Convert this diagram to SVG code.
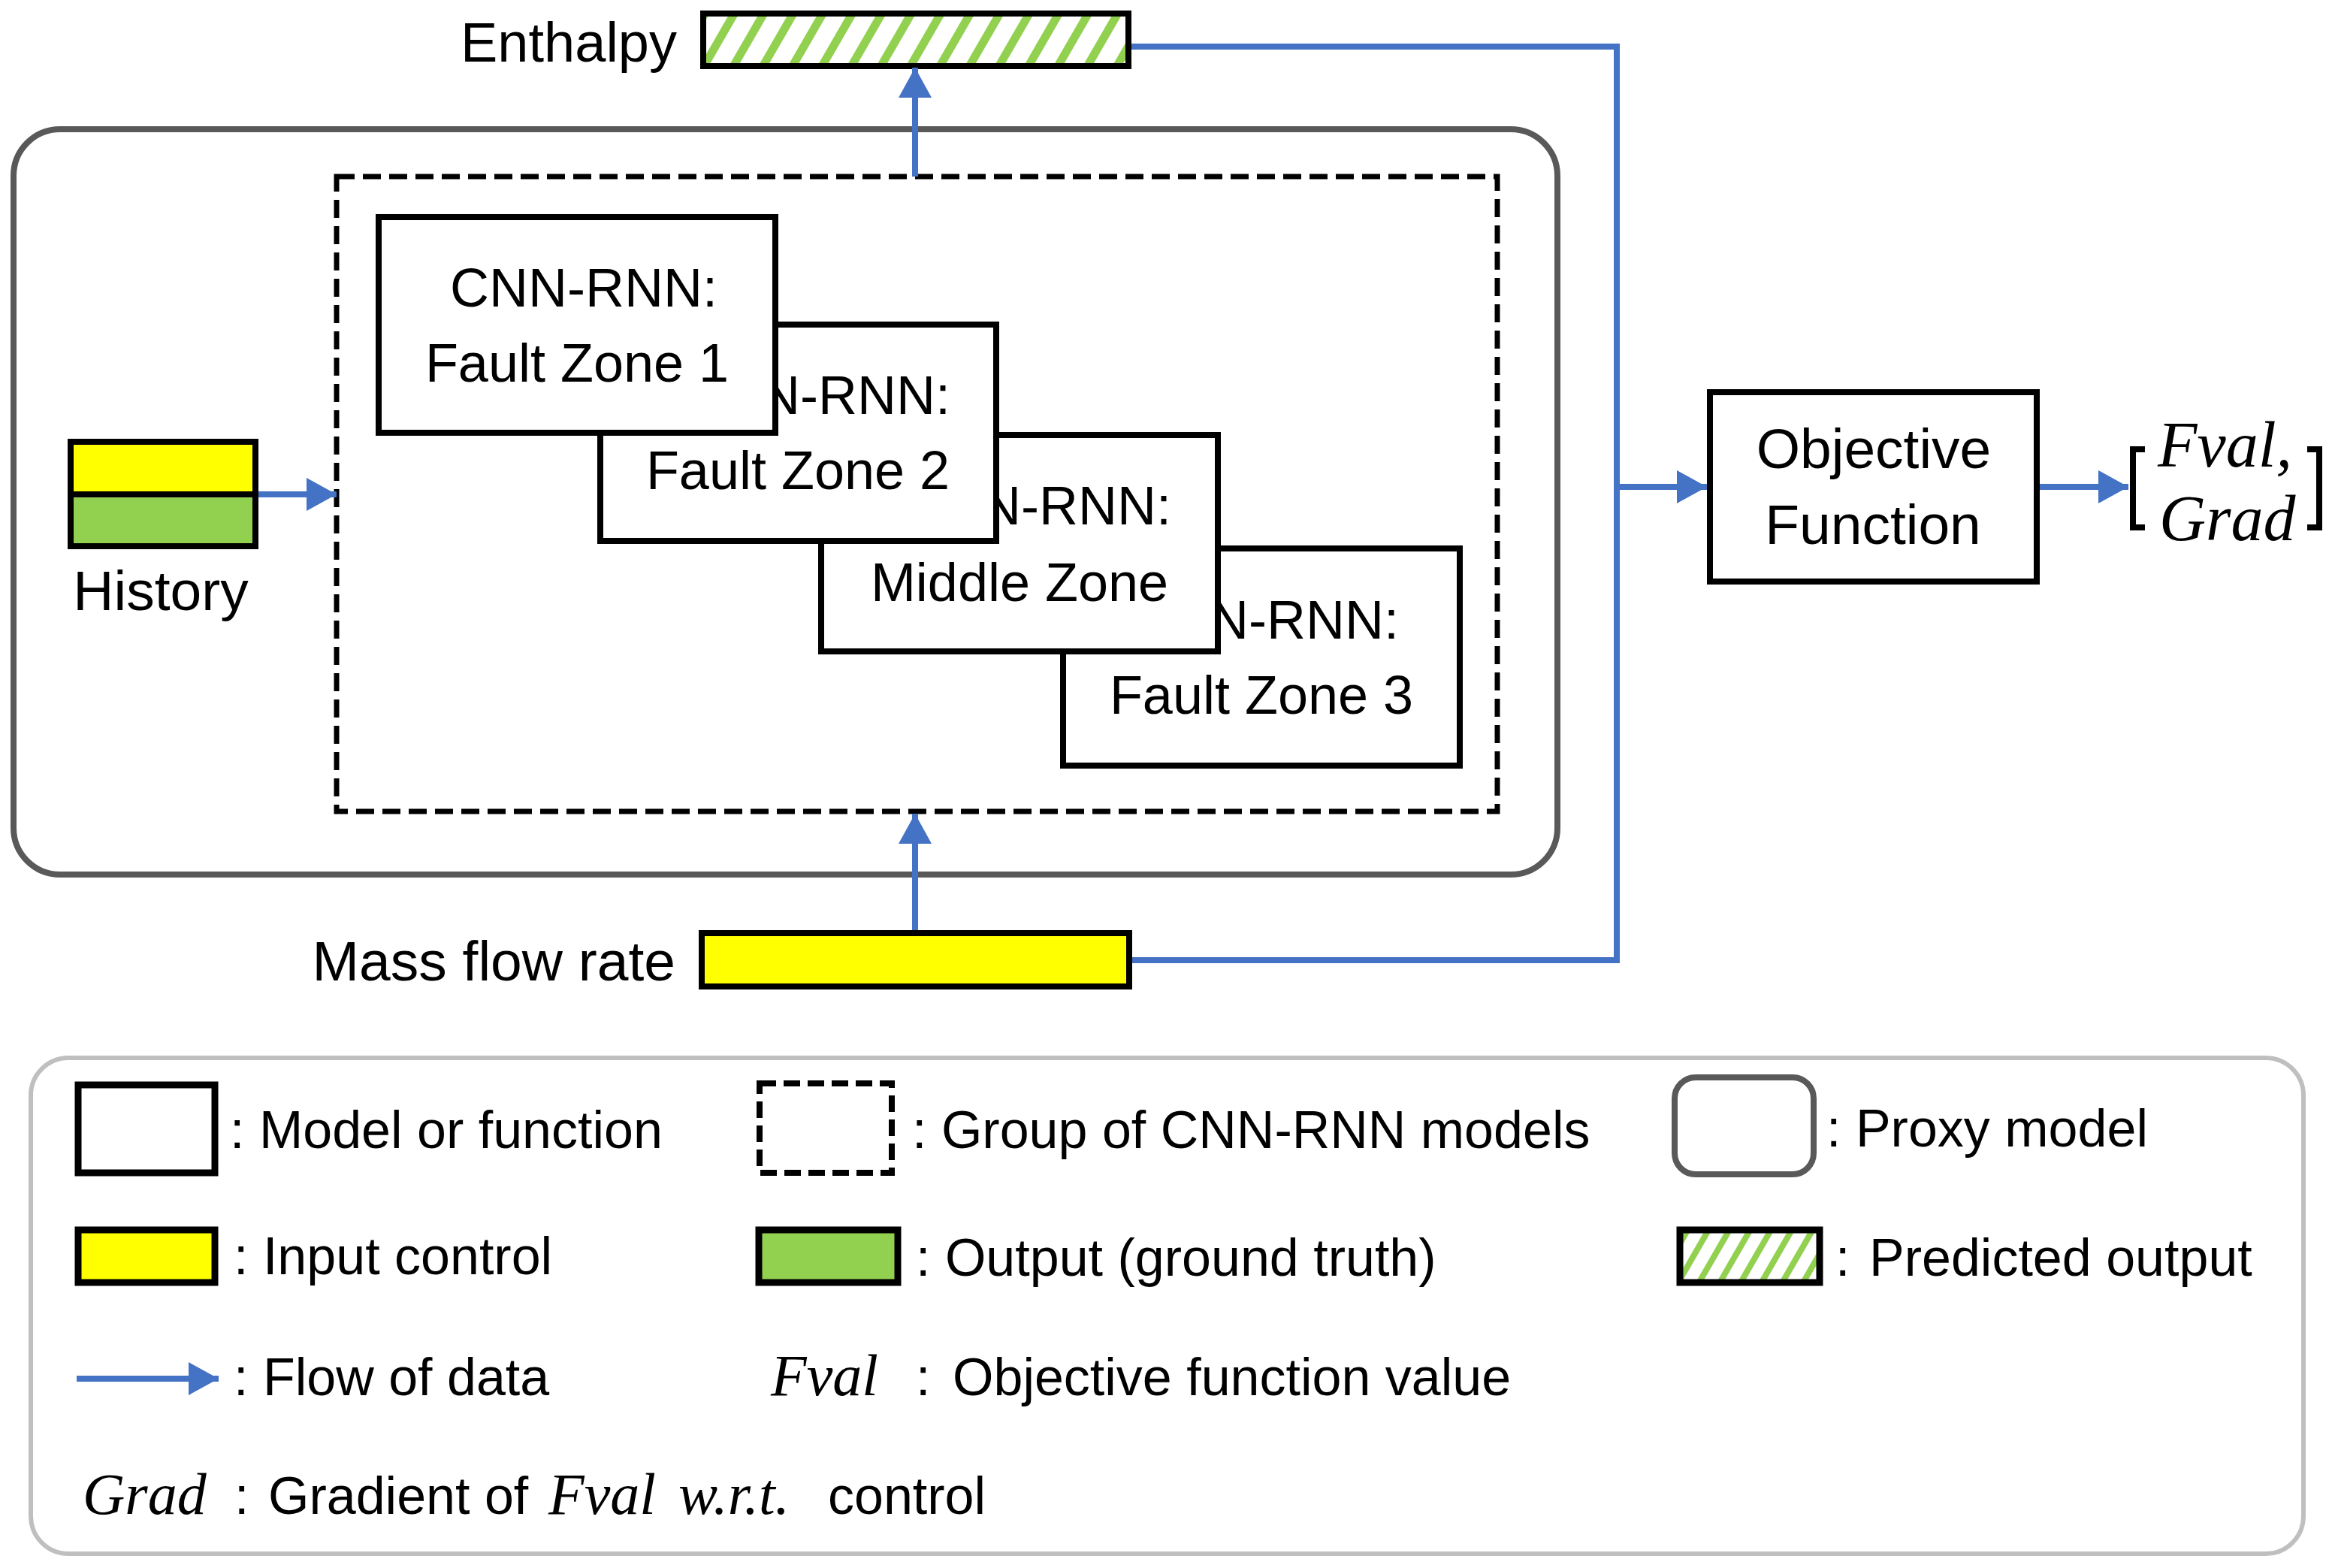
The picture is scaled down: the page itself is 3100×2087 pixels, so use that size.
<svg xmlns="http://www.w3.org/2000/svg" width="3100" height="2087" viewBox="0 0 3100 2087">
<style>
.t{font-family:"Liberation Sans",Arial,sans-serif;fill:#000}
.m{font-family:"Liberation Serif","Times New Roman",serif;font-style:italic;fill:#000}
.lbl{font-size:75px}
.box{font-size:72px;text-anchor:middle}
.leg{font-size:70px}
.mb{fill:#fff;stroke:#000;stroke-width:8}
.flow{fill:none;stroke:#4472C4;stroke-width:8}
</style>
<defs>
<marker id="ah" markerUnits="userSpaceOnUse" markerWidth="40" markerHeight="44" refX="40" refY="22" orient="auto">
<path d="M0,0 L40,22 L0,44 Z" fill="#4472C4"/>
</marker>
<pattern id="hatch" width="34" height="34" patternUnits="userSpaceOnUse" patternTransform="rotate(30)">
<rect width="34" height="34" fill="#fff"/><rect width="11" height="34" fill="#92D050"/>
</pattern>
<pattern id="hatchS" width="24" height="24" patternUnits="userSpaceOnUse" patternTransform="rotate(30)">
<rect width="24" height="24" fill="#fff"/><rect width="8" height="24" fill="#92D050"/>
</pattern>
</defs>
<rect width="3100" height="2087" fill="#fff"/>

<g id="proxy-model">
<rect x="18" y="172" width="2055" height="992" rx="62" fill="#fff" stroke="#595959" stroke-width="8"/>
</g>
<g id="cnn-group">
<rect x="448" y="235" width="1545" height="845" fill="none" stroke="#000" stroke-width="7" stroke-dasharray="24 11"/>
</g>

<g id="box-fz3">
<rect class="mb" x="1415" y="730" width="528" height="289"/>
<text class="t box" x="1684" y="850">CNN-RNN:</text>
<text class="t box" x="1679" y="950">Fault Zone 3</text>
</g>
<g id="box-mz">
<rect class="mb" x="1093" y="579" width="528" height="288"/>
<text class="t box" x="1381" y="698">CNN-RNN:</text>
<text class="t box" x="1357" y="800">Middle Zone</text>
</g>
<g id="box-fz2">
<rect class="mb" x="799" y="432" width="527" height="288"/>
<text class="t box" x="1087" y="551">CNN-RNN:</text>
<text class="t box" x="1062" y="651">Fault Zone 2</text>
</g>
<g id="box-fz1">
<rect class="mb" x="504" y="289" width="528" height="287"/>
<text class="t box" x="777" y="408">CNN-RNN:</text>
<text class="t box" x="768" y="508">Fault Zone 1</text>
</g>

<g id="history">
<rect x="94" y="588" width="246" height="70" fill="#FFFF00" stroke="#000" stroke-width="8"/>
<rect x="94" y="658" width="246" height="69" fill="#92D050" stroke="#000" stroke-width="8"/>
<text class="t lbl" x="214" y="812" text-anchor="middle">History</text>
</g>

<g id="enthalpy">
<rect x="936" y="18" width="566" height="70" fill="url(#hatch)" stroke="#000" stroke-width="8"/>
<text class="t lbl" x="901" y="82" text-anchor="end" style="font-size:74px">Enthalpy</text>
</g>

<g id="mass-flow">
<rect x="934" y="1242" width="569" height="71" fill="#FFFF00" stroke="#000" stroke-width="8"/>
<text class="t lbl" x="899" y="1305" text-anchor="end">Mass flow rate</text>
</g>

<g id="objective">
<rect class="mb" x="2276" y="522" width="435" height="252"/>
<text class="t lbl" x="2494" y="623" text-anchor="middle">Objective</text>
<text class="t lbl" x="2493" y="724" text-anchor="middle">Function</text>
</g>

<g id="output">
<path d="M2855,598 H2839 V702 H2855" fill="none" stroke="#000" stroke-width="8"/>
<path d="M3071,598 H3087 V702 H3071" fill="none" stroke="#000" stroke-width="8"/>
<text class="m" x="2872" y="621" font-size="86">Fval,</text>
<text class="m" x="2874" y="719" font-size="86">Grad</text>
</g>

<g id="connectors">
<path class="flow" d="M344,658 H448" marker-end="url(#ah)"/>
<path class="flow" d="M1218,235 V90" marker-end="url(#ah)"/>
<path class="flow" d="M1218,1238 V1083" marker-end="url(#ah)"/>
<path class="flow" d="M1506,62 H2152 V1278 H1507"/>
<path class="flow" d="M2152,648 H2272" marker-end="url(#ah)"/>
<path class="flow" d="M2715,648 H2833" marker-end="url(#ah)"/>
</g>

<g id="legend">
<rect x="41" y="1408" width="3025" height="660" rx="50" fill="#fff" stroke="#BFBFBF" stroke-width="6"/>
<rect x="104" y="1444" width="182" height="117" fill="#fff" stroke="#000" stroke-width="9"/>
<text class="t leg" x="306" y="1528">: Model or function</text>
<rect x="1011" y="1442" width="176" height="119" fill="none" stroke="#000" stroke-width="8" stroke-dasharray="22 10"/>
<text class="t leg" x="1214" y="1528">: Group of CNN-RNN models</text>
<rect x="2229" y="1434" width="185" height="129" rx="28" fill="#fff" stroke="#595959" stroke-width="8"/>
<text class="t leg" x="2431" y="1526">: Proxy model</text>

<rect x="104" y="1637" width="182" height="70" fill="#FFFF00" stroke="#000" stroke-width="9"/>
<text class="t leg" x="311" y="1696">: Input control</text>
<rect x="1010" y="1637" width="185" height="70" fill="#92D050" stroke="#000" stroke-width="9"/>
<text class="t leg" x="1219" y="1698">: Output (ground truth)</text>
<rect x="2236" y="1637" width="186" height="70" fill="url(#hatchS)" stroke="#000" stroke-width="9"/>
<text class="t leg" x="2443" y="1698">:</text>
<text class="t leg" x="2488" y="1698">Predicted output</text>

<path class="flow" d="M102,1835 H291" marker-end="url(#ah)"/>
<text class="t leg" x="311" y="1857">: Flow of data</text>
<text class="m" x="1026" y="1857" font-size="78">Fval</text>
<text class="t leg" x="1219" y="1857">:</text>
<text class="t leg" x="1268" y="1857">Objective function value</text>

<text class="m" x="110" y="2015" font-size="78">Grad</text>
<text class="t leg" x="312" y="2015">:</text>
<text class="t leg" x="357" y="2015">Gradient of</text>
<text class="m" x="730" y="2015" font-size="78">Fval</text>
<text class="m" x="903" y="2015" font-size="78">w.r.t.</text>
<text class="t leg" x="1102" y="2015">control</text>
</g>
</svg>
